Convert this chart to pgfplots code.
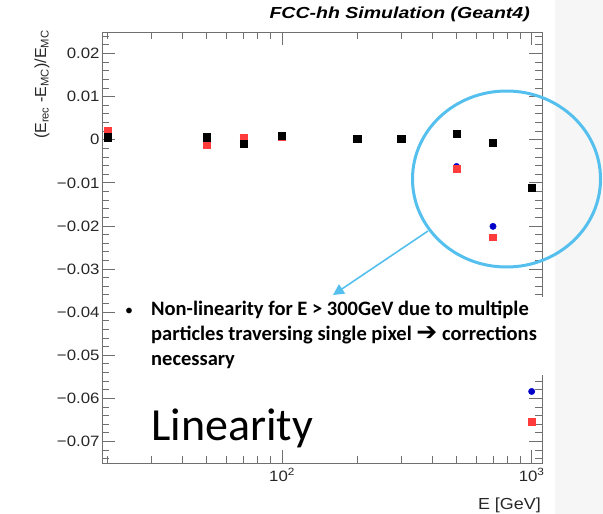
\documentclass[border=0pt]{standalone}
\usepackage{pgfplots}
\pgfplotsset{compat=1.18}
\usepackage{fontspec}
\setmainfont{Liberation Sans}
\newfontfamily\calibri{Carlito}
\newfontfamily\dejavu{DejaVu Sans}
\usepackage{graphicx}
\usetikzlibrary{arrows.meta}
\definecolor{circblue}{HTML}{55C0EE}
\definecolor{rootred}{HTML}{FF3B3B}
\definecolor{rootblue}{HTML}{0000C8}
\definecolor{framegray}{HTML}{707070}
\definecolor{slidegray}{HTML}{F6F6F6}
\newcommand\tl[1]{\scalebox{1.12}[1]{#1}}
\begin{document}
\begin{tikzpicture}
\path[use as bounding box] (0,0) rectangle (603bp,-514bp);
\fill[slidegray] (555bp,0) rectangle (603bp,-514bp);
\begin{axis}[
  at={(102bp,-463bp)}, anchor=south west,
  scale only axis, width=440bp, height=431bp,
  xmode=log, xmin=19, xmax=1100,
  ymin=-0.075, ymax=0.025,
  scaled y ticks=false,
  xtick={100,1000},
  xticklabels={\tl{10\textsuperscript{2}},\tl{10\textsuperscript{3}}},
  minor xtick={20,30,40,50,60,70,80,90,200,300,400,500,600,700,800,900},
  ytick={-0.07,-0.06,-0.05,-0.04,-0.03,-0.02,-0.01,0,0.01,0.02},
  yticklabels={\tl{−0.07},\tl{−0.06},\tl{−0.05},\tl{−0.04},\tl{−0.03},\tl{−0.02},\tl{−0.01},\tl{0},\tl{0.01},\tl{0.02}},
  minor ytick={-0.074,-0.072,...,0.0245},
  tick align=inside,
  major tick length=13bp, minor tick length=7bp,
  axis line style={framegray, line width=0.9pt},
  every tick/.style={framegray, line width=0.9pt},
  ticklabel style={font=\fontsize{15bp}{18bp}\selectfont, text=black!85},
  xticklabel style={yshift=-2bp},
  yticklabel style={xshift=1bp},
  clip=false,
]
\addplot[only marks, mark=*, mark size=3.2bp, rootblue] coordinates {
 (20,0.0008) (50,0.0004) (70,-0.0006) (100,0.0005) (200,0.0001) (300,0.0001) (500,-0.0062) (700,-0.0201) (1000,-0.0584)};
\addplot[only marks, mark=square*, mark size=3.4bp, rootred] coordinates {
 (20,0.0022) (50,-0.0011) (70,0.0005) (100,0.0008) (200,0.0002) (300,0.0002) (500,-0.0068) (700,-0.0226) (1000,-0.0655)};
\addplot[only marks, mark=square*, mark size=3.6bp, black] coordinates {
 (20,0.0006) (50,0.0006) (70,-0.0009) (100,0.0010) (200,0.0002) (300,0.0002) (500,0.0014) (700,-0.0006) (1000,-0.0112)};
\end{axis}
% title and axis labels
\node[anchor=base east, inner sep=0] at (530bp,-18bp)
  {\scalebox{1.22}[1]{\fontsize{16bp}{19bp}\selectfont\bfseries\itshape FCC-hh Simulation (Geant4)}};
\node[anchor=base east, rotate=90, inner sep=0, text=black!85] at (46bp,-30bp)
  {\fontsize{16bp}{19bp}\selectfont (E\textsubscript{rec} -E\textsubscript{MC})/E\textsubscript{MC}};
\node[anchor=base east, inner sep=0, text=black!85] at (541bp,-509bp)
  {\scalebox{1.12}[1]{\fontsize{16bp}{19bp}\selectfont E [GeV]}};
% annotation
\draw[circblue, line width=3bp] (506.5bp,-179bp) ellipse [x radius=94bp, y radius=88bp];
\draw[circblue, line width=1.6bp, -{Triangle[length=11bp, width=11bp]}] (428bp,-231bp) -- (333bp,-295bp);
\fill[white] (118bp,-297bp) rectangle (550bp,-375bp);
\node[anchor=base, inner sep=0] at (129bp,-315bp) {\calibri\fontsize{16bp}{20bp}\selectfont •};
\node[anchor=base west, inner sep=0] at (151bp,-315bp) {\calibri\bfseries\fontsize{20.5bp}{24bp}\selectfont Non-linearity for E > 300GeV due to multiple};
\node[anchor=base west, inner sep=0] at (151bp,-340bp) {\calibri\bfseries\fontsize{20.5bp}{24bp}\selectfont particles traversing single pixel \raisebox{-0.5bp}{\dejavu\bfseries\fontsize{25bp}{25bp}\selectfont ➔} corrections};
\node[anchor=base west, inner sep=0] at (151bp,-365bp) {\calibri\bfseries\fontsize{20.5bp}{24bp}\selectfont necessary};
\node[anchor=base west, inner sep=0] at (151bp,-440bp) {\calibri\fontsize{46bp}{50bp}\selectfont Linearity};
\end{tikzpicture}
\end{document}
